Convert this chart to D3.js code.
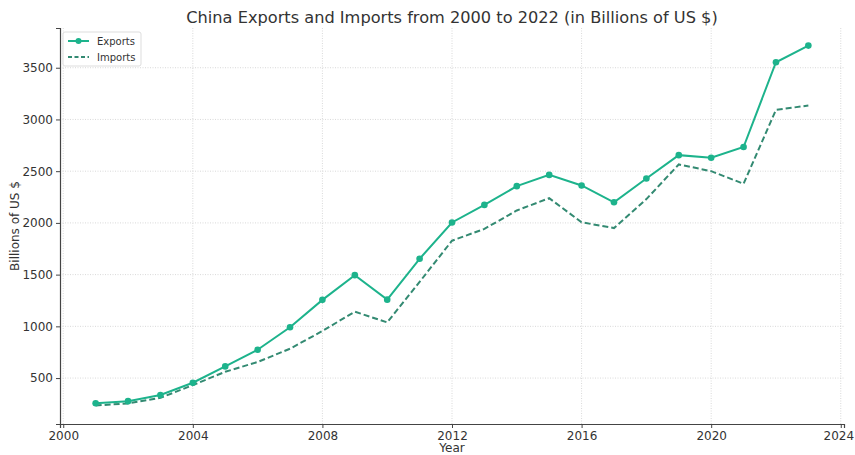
<!DOCTYPE html>
<html>
<head>
<meta charset="utf-8">
<script src="https://cdn.jsdelivr.net/npm/d3@7"></script>
<style>
  body { margin: 0; background: #fff; }
  svg { font-family: "DejaVu Sans", sans-serif; }
</style>
</head>
<body>
<div id="chart"></div>
<script>
// values (billions of US $)
const years = [2001, 2002, 2003, 2004, 2005, 2006, 2007, 2008, 2009, 2010, 2011, 2012,
  2013, 2014, 2015, 2016, 2017, 2018, 2019, 2020, 2021, 2022, 2023];
const exportsVals = [256, 277, 336, 455, 613, 774, 991, 1256, 1495, 1258, 1653, 2004,
  2174, 2355, 2464, 2362, 2199, 2429, 2655, 2630, 2733, 3553, 3714];
const importsVals = [235, 255, 309, 432, 561, 655, 784, 955, 1142, 1038, 1430, 1828,
  1942, 2120, 2239, 2006, 1950, 2230, 2565, 2500, 2378, 3092, 3135];
const xTicks = [2000, 2004, 2008, 2012, 2016, 2020, 2024];
const yTicks = [500, 1000, 1500, 2000, 2500, 3000, 3500];

const width = 855, height = 455;
const margin = {left: 60, right: 11, top: 28, bottom: 31};
const exportColor = '#1db38c';
const importColor = '#338a72';

const svg = d3.select('#chart').append('svg')
  .attr('width', width).attr('height', height);

const x = d3.scaleLinear().domain([1999.9, 2024.1])
  .range([margin.left, width - margin.right]);
const y = d3.scaleLinear().domain([56, 3884])
  .range([height - margin.bottom, margin.top]);

// dotted grid
const grid = svg.append('g').attr('stroke', '#cfcfcf').attr('stroke-width', 0.8)
  .attr('stroke-dasharray', '1 1.5');
grid.selectAll('.gx').data(xTicks).join('line')
  .attr('x1', d => x(d)).attr('x2', d => x(d))
  .attr('y1', margin.top).attr('y2', height - margin.bottom);
grid.selectAll('.gy').data(yTicks).join('line')
  .attr('y1', d => y(d)).attr('y2', d => y(d))
  .attr('x1', margin.left).attr('x2', width - margin.right);

// axes
const xAxis = svg.append('g')
  .attr('transform', `translate(0,${height - margin.bottom})`)
  .call(d3.axisBottom(x).tickValues(xTicks).tickFormat(d3.format('d')).tickSize(4).tickPadding(3));
const yAxis = svg.append('g')
  .attr('transform', `translate(${margin.left},0)`)
  .call(d3.axisLeft(y).tickValues(yTicks).tickFormat(d3.format('d')).tickSize(4).tickPadding(3));
[xAxis, yAxis].forEach(a => {
  a.select('.domain').attr('stroke', '#444').attr('stroke-width', 1.2);
  a.selectAll('.tick line').attr('stroke', '#444');
  a.selectAll('.tick text').attr('fill', '#333').attr('font-size', 12)
    .attr('font-family', '"DejaVu Sans", sans-serif');
});
// keep the last year label inside the window
xAxis.selectAll('.tick text').filter(d => d === 2024).attr('dx', -2.5);

// lines
const lineGen = vals => d3.line()
  .x((d, i) => x(years[i]))
  .y(d => y(d))(vals);

svg.append('path').attr('d', lineGen(importsVals))
  .attr('fill', 'none').attr('stroke', importColor).attr('stroke-width', 2)
  .attr('stroke-dasharray', '6 3');
svg.append('path').attr('d', lineGen(exportsVals))
  .attr('fill', 'none').attr('stroke', exportColor).attr('stroke-width', 2);
svg.append('g').selectAll('circle').data(exportsVals).join('circle')
  .attr('cx', (d, i) => x(years[i])).attr('cy', d => y(d))
  .attr('r', 3.3).attr('fill', exportColor);

// title and labels
svg.append('text').attr('x', (margin.left + width - margin.right) / 2).attr('y', 23)
  .attr('text-anchor', 'middle').attr('font-size', 16.2).attr('fill', '#333')
  .text('China Exports and Imports from 2000 to 2022 (in Billions of US $)');
svg.append('text').attr('x', (margin.left + width - margin.right) / 2).attr('y', 452)
  .attr('text-anchor', 'middle').attr('font-size', 12).attr('fill', '#333')
  .text('Year');
svg.append('text')
  .attr('transform', `translate(19,${(margin.top + height - margin.bottom) / 2}) rotate(-90)`)
  .attr('text-anchor', 'middle').attr('font-size', 12).attr('fill', '#333')
  .text('Billions of US $');

// legend
const legend = svg.append('g').attr('transform', 'translate(63,32)');
legend.append('rect').attr('width', 78).attr('height', 34).attr('rx', 2)
  .attr('fill', '#fff').attr('fill-opacity', 0.85).attr('stroke', '#ddd');
const items = [
  {name: 'Exports', color: exportColor, dash: null, marker: true},
  {name: 'Imports', color: importColor, dash: '4 2.5', marker: false}
];
items.forEach((it, i) => {
  const yy = 9 + i * 16;
  legend.append('line').attr('x1', 5).attr('x2', 26).attr('y1', yy).attr('y2', yy)
    .attr('stroke', it.color).attr('stroke-width', 2)
    .attr('stroke-dasharray', it.dash);
  if (it.marker) legend.append('circle').attr('cx', 15.5).attr('cy', yy).attr('r', 3).attr('fill', it.color);
  legend.append('text').attr('x', 34).attr('y', yy + 3.5).attr('font-size', 10).attr('fill', '#333')
    .text(it.name);
});
</script>
</body>
</html>
